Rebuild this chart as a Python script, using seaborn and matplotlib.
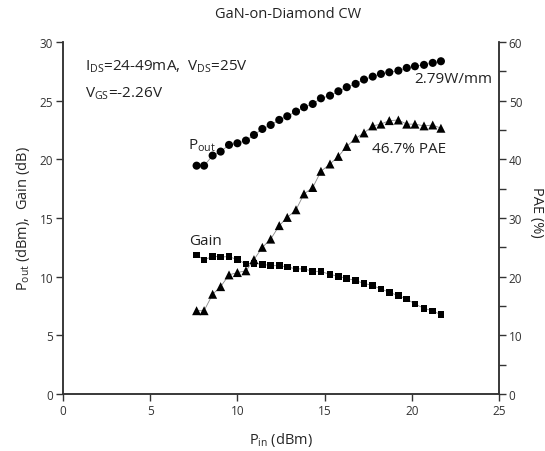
import matplotlib
matplotlib.use('Agg')
import matplotlib.pyplot as plt
import seaborn as sns
import pandas as pd
from matplotlib.ticker import MultipleLocator

# Input power sweep (dBm)
pin = [7.66, 8.09, 8.58, 9.04, 9.52, 10.00, 10.49, 10.95, 11.43, 11.91,
       12.40, 12.86, 13.36, 13.82, 14.32, 14.79, 15.31, 15.79, 16.27, 16.78,
       17.26, 17.76, 18.23, 18.71, 19.23, 19.71, 20.18, 20.70, 21.20, 21.67]

pout = [19.46, 19.46, 20.32, 20.66, 21.23, 21.37, 21.60, 22.08, 22.59, 22.93,
        23.36, 23.67, 24.07, 24.44, 24.72, 25.20, 25.43, 25.80, 26.15, 26.43,
        26.80, 27.05, 27.28, 27.42, 27.56, 27.79, 27.93, 28.05, 28.22, 28.36]

gain = [11.85, 11.42, 11.74, 11.68, 11.71, 11.45, 11.08, 11.14, 11.06, 10.94,
        10.94, 10.83, 10.66, 10.66, 10.46, 10.43, 10.20, 10.03, 9.86, 9.66,
        9.43, 9.24, 8.95, 8.67, 8.38, 8.10, 7.67, 7.30, 7.08, 6.76]

pae = [14.2, 14.2, 17.0, 18.3, 20.3, 20.7, 21.0, 22.9, 25.0, 26.4,
       28.7, 30.1, 31.4, 34.1, 35.2, 37.96, 39.2, 40.5, 42.2, 43.6,
       44.5, 45.7, 46.0, 46.6, 46.7, 46.0, 46.0, 45.7, 45.85, 45.3]

df = pd.DataFrame({'pin': pin, 'pout': pout, 'gain': gain, 'pae': pae})

sns.set_theme(style='ticks')
plt.rcParams['font.family'] = ['Open Sans', 'DejaVu Sans']
plt.rcParams['mathtext.fontset'] = 'custom'
plt.rcParams['mathtext.rm'] = 'Open Sans'
plt.rcParams['mathtext.it'] = 'Open Sans'
plt.rcParams['axes.edgecolor'] = '#333333'
plt.rcParams['xtick.color'] = '#333333'
plt.rcParams['ytick.color'] = '#333333'
plt.rcParams['text.color'] = '#222222'

fig = plt.figure(figsize=(5.45, 4.52), dpi=100)
ax = fig.add_axes([63 / 545, 1 - 395 / 452, 436 / 545, 352 / 452])
ax2 = ax.twinx()

line_kw = dict(color='#888888', linewidth=0.6, legend=False)
sns.lineplot(data=df, x='pin', y='pout', ax=ax, **line_kw)
sns.lineplot(data=df, x='pin', y='gain', ax=ax, **line_kw)
sns.lineplot(data=df, x='pin', y='pae', ax=ax2, **line_kw)

sns.scatterplot(data=df, x='pin', y='pout', ax=ax, marker='o', s=34,
                color='black', edgecolor='none', zorder=3)
sns.scatterplot(data=df, x='pin', y='gain', ax=ax, marker='s', s=24,
                color='black', edgecolor='none', zorder=3)
sns.scatterplot(data=df, x='pin', y='pae', ax=ax2, marker='^', s=42,
                color='black', edgecolor='none', zorder=3)

ax.set_xlim(0, 25)
ax.set_ylim(0, 30)
ax2.set_ylim(0, 60)
ax.xaxis.set_major_locator(MultipleLocator(5))
ax.yaxis.set_major_locator(MultipleLocator(5))
ax2.yaxis.set_major_locator(MultipleLocator(10))
ax2.yaxis.set_minor_locator(MultipleLocator(5))

for a in (ax, ax2):
    a.spines['top'].set_visible(False)
    a.tick_params(which='both', direction='out', length=5, width=1,
                  labelsize=8.5, pad=2)
    for s in a.spines.values():
        s.set_linewidth(1.1)

ax.set_xlabel(r'P$_{\mathrm{in}}$ (dBm)', fontsize=10.5, va='center')
ax.xaxis.set_label_coords(0.5, -0.128)
ax.set_ylabel(r'P$_{\mathrm{out}}$ (dBm),  Gain (dB)', fontsize=10.5,
              va='center')
ax.yaxis.set_label_coords(-0.092, 0.5)
ax2.set_ylabel('PAE (%)', fontsize=10.5, rotation=-90, va='center')
ax2.yaxis.set_label_coords(1.087, 0.52)
fig.text(288 / 545, 1 - 15 / 452, 'GaN-on-Diamond CW', fontsize=10.5,
         ha='center', va='center')

ax.text(0.05, 0.955, r'I$_{\mathrm{DS}}$=24-49mA,  V$_{\mathrm{DS}}$=25V',
        transform=ax.transAxes, fontsize=11, va='top')
ax.text(0.05, 0.88, r'V$_{\mathrm{GS}}$=-2.26V',
        transform=ax.transAxes, fontsize=11, va='top')
ax.text(7.15, 20.9, r'P$_{\mathrm{out}}$', fontsize=11)
ax.text(7.25, 12.8, 'Gain', fontsize=11)
ax.text(19.84, 20.9, '46.7% PAE', fontsize=11, ha='center', va='center')
ax.text(22.39, 26.85, '2.79W/mm', fontsize=11, ha='center', va='center')

fig.savefig('out.png', dpi=100)
